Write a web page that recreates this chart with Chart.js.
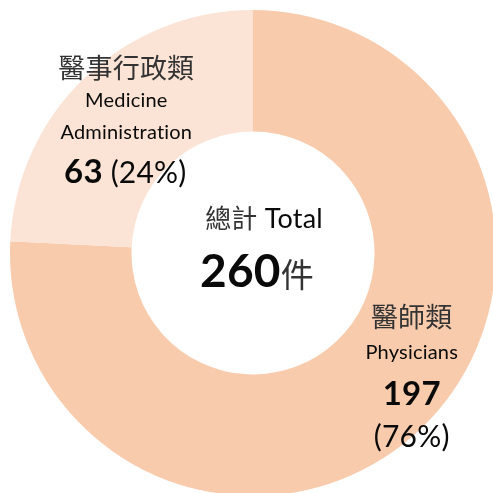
<!DOCTYPE html>
<html><head><meta charset="utf-8">
<script src="https://cdn.jsdelivr.net/npm/chart.js@4"></script>
<style>
html,body{margin:0;padding:0;overflow:hidden;background:#fff;width:493px;height:493px}
#wrap{position:absolute;left:0;top:0;width:506px;height:506px}
</style>
</head><body><div id="wrap"><canvas id="c" width="506" height="506"></canvas></div>
<script>
const categoriesZh = ['醫師類', '醫事行政類'];
const categoriesEn = [['Physicians'], ['Medicine', 'Administration']];
const counts = [197, 63];
const percentLabels = ['(76%)', '(24%)'];
const totalLabelZh = '總計';
const totalLabelEn = 'Total';
const totalValue = 260;
const totalUnit = '件';
const sliceColors = ['#F8CBAD', '#FBE3D5'];

const LATIN = "Lato, 'Noto Sans CJK TC', sans-serif";
const CJK = "'Noto Sans CJK TC', sans-serif";

function drawLine(ctx, parts, x, y) {
  if ('letterSpacing' in ctx) ctx.letterSpacing = '0.2px';
  let w = 0;
  parts.forEach(p => { ctx.font = p.font; p.w = ctx.measureText(p.text).width; w += p.w; });
  let sx = x - w / 2;
  ctx.textAlign = 'left';
  ctx.textBaseline = 'alphabetic';
  parts.forEach(p => { ctx.font = p.font; ctx.fillStyle = p.color || '#0a0a0a'; ctx.fillText(p.text, sx, y); sx += p.w; });
}

const labelPlugin = {
  id: 'labels',
  afterDatasetsDraw(chart) {
    const ctx = chart.ctx;
    const meta = chart.getDatasetMeta(0);
    const big = meta.data[0], small = meta.data[1];
    const cx = big.x, cy = big.y;
    const pb = big.tooltipPosition();
    const ps = small.tooltipPosition();
    ctx.save();
    // small slice label
    drawLine(ctx, [{text: categoriesZh[1], font: '400 27px ' + CJK, color: '#333'}], ps.x - 1, ps.y - 43);
    drawLine(ctx, [{text: categoriesEn[1][0], font: '400 20px ' + LATIN}], ps.x - 1, ps.y - 14);
    drawLine(ctx, [{text: categoriesEn[1][1], font: '400 20px ' + LATIN}], ps.x - 1, ps.y + 18);
    drawLine(ctx, [{text: String(counts[1]), font: '700 33px ' + LATIN}, {text: ' ' + percentLabels[1], font: '400 30px ' + LATIN}], ps.x - 2, ps.y + 62);
    // big slice label
    const bx = pb.x + 33, by = pb.y;
    drawLine(ctx, [{text: categoriesZh[0], font: '400 27px ' + CJK, color: '#333'}], bx, by - 58);
    drawLine(ctx, [{text: categoriesEn[0][0], font: '400 20px ' + LATIN}], bx, by - 26);
    drawLine(ctx, [{text: String(counts[0]), font: '700 33px ' + LATIN}], bx, by + 20);
    drawLine(ctx, [{text: percentLabels[0], font: '400 30px ' + LATIN}], bx, by + 62);
    // centre
    drawLine(ctx, [{text: totalLabelZh, font: '400 26px ' + CJK, color: '#333'}, {text: ' ' + totalLabelEn, font: '400 27px ' + LATIN}], cx + 11, cy - 25);
    drawLine(ctx, [{text: String(totalValue), font: '700 46px ' + LATIN}, {text: totalUnit, font: '400 33px ' + CJK, color: '#333'}], cx + 4, cy + 34);
    ctx.restore();
  }
};

new Chart(document.getElementById('c'), {
  type: 'doughnut',
  data: {
    labels: categoriesZh,
    datasets: [{ data: counts, backgroundColor: sliceColors, borderWidth: 0 }]
  },
  options: {
    responsive: false,
    animation: false,
    cutout: '50%',
    layout: { padding: 10 },
    plugins: { legend: { display: false }, tooltip: { enabled: false } }
  },
  plugins: [labelPlugin]
});
</script>
</body></html>
